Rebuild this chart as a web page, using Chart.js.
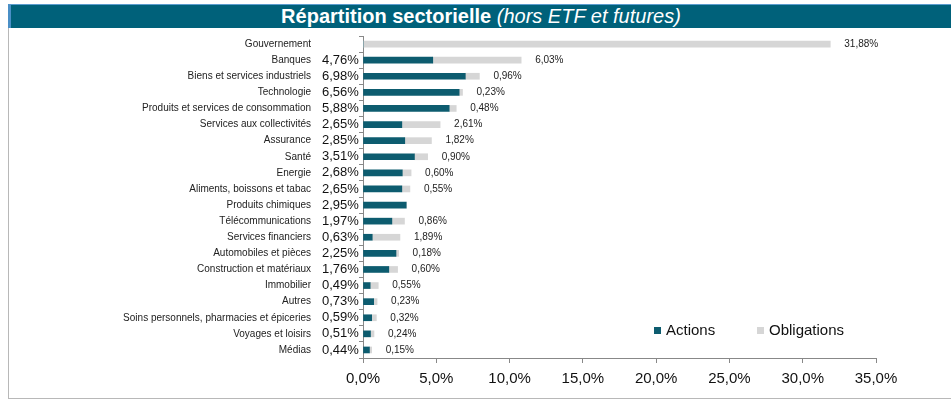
<!DOCTYPE html>
<html>
<head>
<meta charset="utf-8">
<script src="https://cdn.jsdelivr.net/npm/chart.js@4"></script>
<style>
  body { margin: 0; background: #fff; font-family: 'Liberation Sans', Arial, sans-serif; }
  #wrap { position: relative; width: 951px; height: 400px; overflow: hidden; }
  #frame { position: absolute; left: 8px; top: 28px; width: 943px; height: 370px;
           border-left: 1px solid #b8b8b8; border-bottom: 1px solid #b8b8b8; }
  #title { position: absolute; left: 8px; top: 4px; width: 940px; height: 23px;
           background: #00617a; border-top: 1px solid #5b9cce; border-left: 3px solid #4a8fc6;
           color: #fff; font-size: 20px; line-height: 23px; text-align: center; }
  #title b { font-weight: bold; }
  #title i { font-style: italic; }
  canvas { position: absolute; left: 0; top: 0; }
</style>
</head>
<body>
<div id="wrap">
  <div id="frame"></div>
  <div id="title"><b>Répartition sectorielle</b> <i>(hors ETF et futures)</i></div>
  <canvas id="sectorChart" width="951" height="400"></canvas>
</div>
<script>
// Sector data (in %)
const sectors = [
    'Gouvernement', 'Banques', 'Biens et services industriels', 'Technologie',
    'Produits et services de consommation', 'Services aux collectivités', 'Assurance',
    'Santé', 'Energie', 'Aliments, boissons et tabac', 'Produits chimiques',
    'Télécommunications', 'Services financiers', 'Automobiles et pièces',
    'Construction et matériaux', 'Immobilier', 'Autres',
    'Soins personnels, pharmacies et épiceries', 'Voyages et loisirs', 'Médias'
];
const actions = [0, 4.76, 6.98, 6.56, 5.88, 2.65, 2.85, 3.51, 2.68, 2.65, 2.95, 1.97, 0.63, 2.25, 1.76, 0.49, 0.73, 0.59, 0.51, 0.44];
const obligations = [31.88, 6.03, 0.96, 0.23, 0.48, 2.61, 1.82, 0.90, 0.60, 0.55, 0, 0.86, 1.89, 0.18, 0.60, 0.55, 0.23, 0.32, 0.24, 0.15];
const xTicks = [0, 5, 10, 15, 20, 25, 30, 35];

const FONT = "'Liberation Sans', Arial, sans-serif";
const TEAL = '#0d5c6f';
const GREY = '#d6d6d6';

function pct(v, d) {
    return v.toFixed(d).replace('.', ',') + '%';
}

// Value labels: actions left of the axis, obligations after the bar end
const valueLabels = {
    id: 'valueLabels',
    afterDatasetsDraw(chart) {
        const ctx = chart.ctx;
        const xs = chart.scales.x;
        const ys = chart.scales.y;
        ctx.save();
        ctx.textBaseline = 'middle';
        sectors.forEach((s, i) => {
            const y = ys.getPixelForValue(i);
            if (actions[i] > 0) {
                ctx.font = '13px ' + FONT;
                ctx.fillStyle = '#111';
                ctx.textAlign = 'left';
                ctx.fillText(pct(actions[i], 2), 322, y);
            }
            if (obligations[i] > 0) {
                ctx.font = '10px ' + FONT;
                ctx.fillStyle = '#222';
                ctx.textAlign = 'left';
                ctx.fillText(pct(obligations[i], 2), xs.getPixelForValue(actions[i] + obligations[i]) + 14, y);
            }
        });
        ctx.restore();
    }
};

// Legend drawn inside the plot area, like the original
const innerLegend = {
    id: 'innerLegend',
    afterDraw(chart) {
        const ctx = chart.ctx;
        const spots = [654, 757];
        ctx.save();
        ctx.font = '15px ' + FONT;
        ctx.textBaseline = 'middle';
        ctx.textAlign = 'left';
        chart.data.datasets.forEach((ds, i) => {
            ctx.fillStyle = ds.backgroundColor;
            ctx.fillRect(spots[i], 327, 7, 7);
            ctx.fillStyle = '#111';
            ctx.fillText(ds.label, spots[i] + 12, 331);
        });
        ctx.restore();
    }
};

const ctx = document.getElementById('sectorChart').getContext('2d');
new Chart(ctx, {
    type: 'bar',
    data: {
        labels: sectors,
        datasets: [{
            label: 'Actions',
            data: actions,
            backgroundColor: TEAL,
            barThickness: 6
        }, {
            label: 'Obligations',
            data: obligations,
            backgroundColor: GREY,
            barThickness: 6
        }]
    },
    options: {
        indexAxis: 'y',
        responsive: false,
        animation: false,
        layout: { padding: { top: 36, right: 75, bottom: 0, left: 0 } },
        plugins: {
            legend: { display: false },
            tooltip: { enabled: false }
        },
        scales: {
            x: {
                stacked: true,
                min: 0,
                max: 35,
                afterFit: scale => { scale.height = 42; },
                afterBuildTicks: scale => { scale.ticks = xTicks.map(v => ({ value: v })); },
                ticks: {
                    font: { family: FONT, size: 15 },
                    color: '#111',
                    padding: 7,
                    callback: v => pct(v, 1)
                },
                grid: { drawOnChartArea: false, tickLength: 5, color: '#888' },
                border: { color: '#888' }
            },
            y: {
                stacked: true,
                // big label padding would otherwise push the plot area down
                afterFit: scale => {
                    scale.width = 363;
                    scale.paddingTop = 0;
                    scale.paddingBottom = 0;
                },
                ticks: {
                    font: { family: FONT, size: 10 },
                    color: '#222',
                    padding: 48,
                    autoSkip: false
                },
                grid: { drawOnChartArea: false, tickLength: 4, color: '#888', offset: true },
                border: { color: '#888' }
            }
        }
    },
    plugins: [valueLabels, innerLegend]
});
</script>
</body>
</html>
